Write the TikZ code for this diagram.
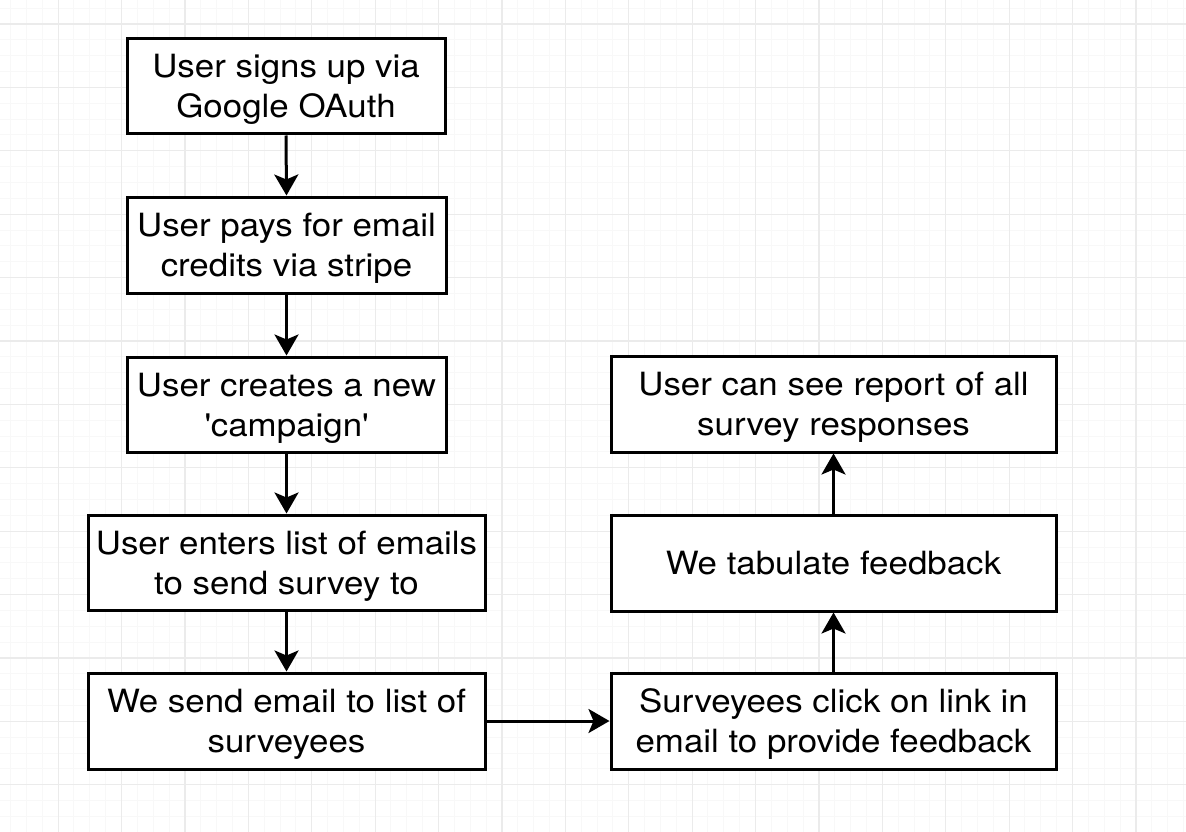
\documentclass[tikz,border=0pt]{standalone}
\usepackage{fontspec}
\setmainfont{TeX Gyre Heros}[FakeStretch=1.09]
\usetikzlibrary{arrows.meta}
\definecolor{gridmajor}{HTML}{EBEBEB}
\definecolor{gridminor}{HTML}{F8F8F8}
\newcommand\topfix{\rule{0pt}{30pt}}
\tikzset{
  box/.style={draw=black, line width=3pt, rectangle, fill=white, align=center,
    inner sep=0pt, font=\fontsize{32}{40}\selectfont,
    execute at end node={\rule[-7pt]{0pt}{7pt}}},
  flow/.style={draw=black, line width=3pt, -{Stealth[length=21pt,width=24pt,inset=5pt]}}
}
\begin{document}
\begin{tikzpicture}[x=1pt,y=-1pt]
\useasboundingbox (0,0) rectangle (1186,832);
\fill[white] (0,0) rectangle (1186,832);
% minor grid
\foreach \i in {-4,...,76} {
  \draw[gridminor, line width=1pt] ({58.1+15.85*\i},0) -- ({58.1+15.85*\i},832);
}
\foreach \i in {-2,...,52} {
  \draw[gridminor, line width=1pt] (0,{24+15.85*\i}) -- (1186,{24+15.85*\i});
}
% major grid
\foreach \i in {-1,...,18} {
  \draw[gridmajor, line width=1.2pt] ({58.1+63.4*\i},0) -- ({58.1+63.4*\i},832);
}
\foreach \i in {0,...,13} {
  \draw[gridmajor, line width=1.2pt] (0,{24+63.4*\i}) -- (1186,{24+63.4*\i});
}
% nodes
\node[box, minimum width=318pt, minimum height=95pt] (b1) at (286,86.5) {\topfix User signs up via\\Google OAuth};
\node[box, minimum width=319pt, minimum height=96pt] (b2) at (286.5,245) {\topfix User pays for email\\credits via stripe};
\node[box, minimum width=319pt, minimum height=95pt] (b3) at (286.5,404.5) {\topfix User creates a new\\\textquotesingle campaign\textquotesingle};
\node[box, minimum width=397pt, minimum height=95pt] (b4) at (286.5,562.5) {\topfix User enters list of emails\\to send survey to};
\node[box, minimum width=397pt, minimum height=96pt] (b5) at (286.5,721) {\topfix We send email to list of\\surveyees};
\node[box, minimum width=445pt, minimum height=96pt] (b6) at (833.5,721) {\topfix Surveyees click on link in\\email to provide feedback};
\node[box, minimum width=445pt, minimum height=96pt] (b7) at (833.5,563) {\topfix We tabulate feedback};
\node[box, minimum width=445pt, minimum height=96pt] (b8) at (833.5,404) {\topfix User can see report of all\\survey responses};
% connectors
\draw[flow] (b1.south) -- (b2.north);
\draw[flow] (b2.south) -- (b3.north);
\draw[flow] (b3.south) -- (b4.north);
\draw[flow] (b4.south) -- (b5.north);
\draw[flow] (b5.east) -- (b6.west);
\draw[flow] (b6.north) -- (b7.south);
\draw[flow] (b7.north) -- (b8.south);
\end{tikzpicture}
\end{document}
